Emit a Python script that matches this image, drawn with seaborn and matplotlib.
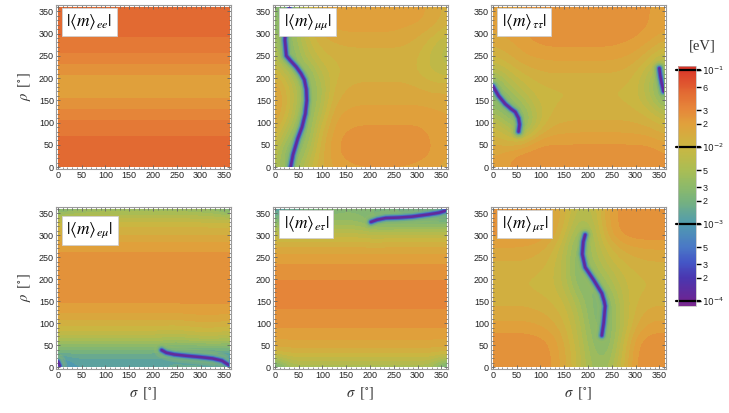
import numpy as np
import matplotlib
matplotlib.use("Agg")
import matplotlib.pyplot as plt
import seaborn as sns
from matplotlib.colors import LinearSegmentedColormap, ListedColormap, BoundaryNorm, Normalize
from matplotlib.cm import ScalarMappable
from matplotlib.patches import Rectangle
from matplotlib.ticker import MultipleLocator

sns.set_theme(style="ticks")
plt.rcParams['font.family'] = ['Liberation Sans', 'DejaVu Sans']
plt.rcParams['mathtext.fontset'] = 'stix'

# grid nodes (degrees), values are log10(|<m>| / eV)
sigma_nodes = [0, 30, 60, 90, 120, 150, 180, 210, 240, 270, 300, 330, 360]
rho_nodes = [0, 30, 60, 90, 120, 150, 180, 210, 240, 270, 300, 330, 360]

# |<m>_ee| only changes with rho
ee_rho_profile = [-1.30, -1.30, -1.32, -1.40, -1.50, -1.65, -1.72, -1.65, -1.50, -1.40, -1.32, -1.30, -1.30]

# rows: rho = 0 ... 360, columns: sigma = 0 ... 360
mumu_grid = [
    [-2.2, -2.6, -2.2, -1.9, -1.75, -1.68, -1.66, -1.66, -1.66, -1.66, -1.68, -1.72, -1.8],
    [-2.1, -2.7, -2.4, -1.95, -1.7, -1.6, -1.6, -1.6, -1.6, -1.6, -1.6, -1.65, -1.75],
    [-1.95, -2.5, -2.6, -2.0, -1.7, -1.6, -1.6, -1.6, -1.6, -1.6, -1.6, -1.65, -1.75],
    [-1.8, -2.2, -2.7, -2.1, -1.75, -1.66, -1.64, -1.64, -1.64, -1.64, -1.64, -1.68, -1.75],
    [-1.72, -2.0, -2.6, -2.3, -1.8, -1.72, -1.7, -1.7, -1.7, -1.7, -1.7, -1.72, -1.75],
    [-1.7, -1.95, -2.5, -2.4, -1.9, -1.8, -1.78, -1.78, -1.78, -1.78, -1.78, -1.8, -1.8],
    [-1.75, -2.0, -2.5, -2.4, -1.95, -1.85, -1.82, -1.82, -1.82, -1.82, -1.85, -1.9, -1.9],
    [-1.9, -2.2, -2.7, -2.2, -2.0, -1.92, -1.9, -1.9, -1.9, -1.9, -1.95, -2.05, -2.1],
    [-2.1, -2.7, -2.3, -2.05, -1.95, -1.92, -1.9, -1.9, -1.9, -1.9, -1.95, -2.1, -2.2],
    [-2.3, -2.6, -2.2, -1.95, -1.88, -1.85, -1.85, -1.85, -1.85, -1.85, -1.9, -2.05, -2.2],
    [-2.4, -2.6, -2.1, -1.85, -1.78, -1.75, -1.75, -1.75, -1.75, -1.78, -1.82, -1.9, -2.05],
    [-2.5, -2.7, -2.1, -1.8, -1.7, -1.68, -1.68, -1.68, -1.68, -1.7, -1.72, -1.78, -1.9],
    [-2.5, -2.7, -2.2, -1.85, -1.72, -1.68, -1.68, -1.68, -1.68, -1.7, -1.72, -1.78, -1.9],
]

tautau_grid = [
    [-1.72, -1.66, -1.58, -1.58, -1.58, -1.58, -1.58, -1.58, -1.58, -1.58, -1.58, -1.58, -1.62],
    [-1.76, -1.7, -1.6, -1.58, -1.58, -1.58, -1.58, -1.58, -1.58, -1.58, -1.58, -1.58, -1.64],
    [-1.9, -1.95, -2.0, -1.72, -1.68, -1.68, -1.68, -1.68, -1.68, -1.68, -1.68, -1.7, -1.78],
    [-2.0, -2.2, -2.6, -2.1, -1.85, -1.82, -1.8, -1.8, -1.8, -1.8, -1.82, -1.85, -1.95],
    [-2.3, -2.6, -2.6, -2.15, -1.95, -1.9, -1.9, -1.9, -1.9, -1.9, -1.92, -2.0, -2.2],
    [-2.6, -2.6, -2.3, -2.05, -1.97, -1.95, -1.95, -1.95, -1.95, -1.95, -2.0, -2.2, -2.6],
    [-2.7, -2.3, -2.1, -1.98, -1.95, -1.95, -1.95, -1.95, -1.95, -1.95, -2.0, -2.3, -2.7],
    [-2.3, -2.1, -1.95, -1.88, -1.85, -1.85, -1.85, -1.85, -1.85, -1.87, -1.95, -2.2, -2.6],
    [-2.0, -1.9, -1.8, -1.76, -1.74, -1.74, -1.74, -1.74, -1.74, -1.76, -1.82, -2.0, -2.2],
    [-1.85, -1.8, -1.72, -1.66, -1.64, -1.64, -1.64, -1.64, -1.64, -1.66, -1.7, -1.8, -1.95],
    [-1.75, -1.72, -1.66, -1.6, -1.58, -1.58, -1.58, -1.58, -1.58, -1.6, -1.62, -1.68, -1.75],
    [-1.72, -1.7, -1.65, -1.6, -1.58, -1.58, -1.58, -1.58, -1.58, -1.58, -1.6, -1.65, -1.72],
    [-1.72, -1.7, -1.66, -1.6, -1.58, -1.58, -1.58, -1.58, -1.58, -1.58, -1.6, -1.65, -1.72],
]

emu_grid = [
    [-3.3, -3.0, -2.95, -2.95, -2.95, -2.95, -2.95, -2.9, -2.8, -2.8, -2.8, -2.9, -3.3],
    [-2.8, -2.8, -2.8, -2.8, -2.8, -2.8, -2.8, -2.85, -2.95, -3.0, -3.0, -3.0, -2.9],
    [-2.3, -2.3, -2.3, -2.3, -2.3, -2.3, -2.3, -2.3, -2.35, -2.3, -2.25, -2.25, -2.3],
    [-1.95, -1.95, -1.95, -1.95, -1.95, -1.95, -1.95, -1.95, -1.97, -1.95, -1.92, -1.92, -1.95],
    [-1.75, -1.75, -1.75, -1.75, -1.75, -1.75, -1.75, -1.75, -1.75, -1.74, -1.72, -1.72, -1.75],
    [-1.62] * 13,
    [-1.55] * 13,
    [-1.55] * 13,
    [-1.56] * 13,
    [-1.68] * 13,
    [-1.85] * 13,
    [-2.02] * 13,
    [-2.75, -2.6, -2.55, -2.5, -2.5, -2.5, -2.5, -2.5, -2.5, -2.5, -2.55, -2.6, -2.8],
]

etau_grid = [
    [-2.9, -2.4, -2.35, -2.35, -2.35, -2.35, -2.35, -2.35, -2.35, -2.35, -2.35, -2.4, -2.9],
    [-1.95, -1.92, -1.92, -1.92, -1.92, -1.92, -1.92, -1.92, -1.92, -1.92, -1.92, -1.92, -1.95],
    [-1.75] * 13,
    [-1.64] * 13,
    [-1.56] * 13,
    [-1.53] * 13,
    [-1.53] * 13,
    [-1.56] * 13,
    [-1.67] * 13,
    [-1.82] * 13,
    [-2.1, -2.1, -2.1, -2.1, -2.1, -2.1, -2.1, -2.15, -2.1, -2.1, -2.1, -2.1, -2.1],
    [-2.6, -2.55, -2.5, -2.5, -2.45, -2.45, -2.5, -2.7, -2.75, -2.7, -2.7, -2.7, -2.7],
    [-3.0, -2.9, -2.8, -2.7, -2.65, -2.6, -2.6, -2.65, -2.7, -2.8, -2.9, -3.0, -3.1],
]

mutau_grid = [
    [-1.56, -1.56, -1.56, -1.57, -1.62, -1.8, -2.1, -2.4, -2.4, -2.0, -1.62, -1.56, -1.56],
    [-1.56, -1.56, -1.56, -1.57, -1.62, -1.82, -2.1, -2.45, -2.5, -2.05, -1.62, -1.56, -1.56],
    [-1.58, -1.58, -1.58, -1.6, -1.66, -1.85, -2.15, -2.5, -2.6, -2.1, -1.68, -1.58, -1.58],
    [-1.7, -1.7, -1.7, -1.72, -1.78, -1.92, -2.2, -2.55, -2.6, -2.2, -1.82, -1.7, -1.7],
    [-1.8, -1.8, -1.8, -1.82, -1.87, -1.98, -2.25, -2.6, -2.6, -2.2, -1.9, -1.8, -1.8],
    [-1.88, -1.88, -1.88, -1.9, -1.95, -2.05, -2.35, -2.6, -2.6, -2.15, -1.95, -1.88, -1.88],
    [-1.95, -1.95, -1.95, -1.97, -2.0, -2.15, -2.5, -2.6, -2.4, -2.1, -1.98, -1.95, -1.95],
    [-1.93, -1.93, -1.93, -1.95, -2.0, -2.2, -2.6, -2.5, -2.25, -2.05, -1.95, -1.93, -1.93],
    [-1.85, -1.85, -1.85, -1.88, -1.95, -2.2, -2.6, -2.35, -2.1, -1.95, -1.88, -1.85, -1.85],
    [-1.76, -1.76, -1.76, -1.8, -1.88, -2.15, -2.6, -2.3, -2.0, -1.82, -1.76, -1.74, -1.74],
    [-1.62, -1.62, -1.62, -1.64, -1.75, -2.0, -2.5, -2.3, -1.8, -1.62, -1.58, -1.58, -1.58],
    [-1.58, -1.58, -1.6, -1.62, -1.7, -1.92, -2.3, -2.2, -1.75, -1.6, -1.56, -1.56, -1.56],
    [-1.58, -1.58, -1.6, -1.62, -1.7, -1.9, -2.2, -2.15, -1.75, -1.6, -1.56, -1.56, -1.56],
]

# lines where the element vanishes (sigma, rho in degrees)
mumu_zero_sigma = [33, 38, 48, 57, 64, 67, 66, 62, 55, 45, 32, 24, 21, 22, 25, 31]
mumu_zero_rho = [0, 28, 64, 90, 120, 150, 175, 196, 210, 225, 240, 250, 285, 300, 327, 360]
tautau_zero_sigma = [0, 12, 26, 38, 47, 54, 56, 54]
tautau_zero_rho = [182, 160, 142, 131, 124, 110, 96, 80]
tautau_zero2_sigma = [350, 352, 355, 359]
tautau_zero2_rho = [222, 205, 188, 170]
emu_zero_sigma = [218, 228, 245, 270, 300, 325, 345, 355, 360]
emu_zero_rho = [39, 33, 29, 26, 23, 20, 15, 8, 5]
emu_zero2_sigma = [0, 4]
emu_zero2_rho = [13, 3]
etau_zero_sigma = [202, 215, 233, 260, 288, 322, 345, 360]
etau_zero_rho = [330, 335, 339, 340, 342, 347, 351, 356]
mutau_zero_sigma = [229, 233, 236, 234, 229, 212, 194, 188, 190, 194]
mutau_zero_rho = [72, 101, 139, 150, 168, 198, 227, 257, 285, 301]

panel_labels = [r'$|\langle m\rangle_{ee}|$', r'$|\langle m\rangle_{\mu\mu}|$', r'$|\langle m\rangle_{\tau\tau}|$',
                r'$|\langle m\rangle_{e\mu}|$', r'$|\langle m\rangle_{e\tau}|$', r'$|\langle m\rangle_{\mu\tau}|$']

# colour bar: log10 positions and tick labels
cbar_ticks = [-1.0, np.log10(0.06), np.log10(0.03), np.log10(0.02), -2.0, np.log10(0.005), np.log10(0.003),
              np.log10(0.002), -3.0, np.log10(0.0005), np.log10(0.0003), np.log10(0.0002), -4.0]
cbar_ticklabels = [r'$10^{-1}$', '6', '3', '2', r'$10^{-2}$', '5', '3', '2', r'$10^{-3}$', '5', '3', '2', r'$10^{-4}$']
cbar_decades = [-1.0, -2.0, -3.0, -4.0]

# rainbow-like gradient
grad_pos = [-4.065, -4.0, -3.7, -3.5, -3.3, -3.0, -2.7, -2.5, -2.3, -2.0, -1.7, -1.5, -1.3, -1.2, -1.0, -0.948]
grad_cols = ['#7b2a8f', '#6c2593', '#4a37b0', '#4456c6', '#4a78c6', '#509bb0', '#77b27e', '#8fba68',
             '#aabd54', '#cab742', '#e0a13c', '#e6863a', '#e36c33', '#e05a30', '#db3a2a', '#d83328']
vmin, vmax = grad_pos[0], grad_pos[-1]
cont_norm = Normalize(vmin, vmax)
rainbow = LinearSegmentedColormap.from_list(
    'rainbow_m', [((p - vmin) / (vmax - vmin), c) for p, c in zip(grad_pos, grad_cols)])

# contour bands, 0.1 decade wide
levels = np.round(np.arange(-4.15, -0.84, 0.1), 2)
centers = levels[:-1] + 0.05
band_cmap = ListedColormap(rainbow(cont_norm(centers)))
band_norm = BoundaryNorm(levels, band_cmap.N)

grids = [np.tile(np.array(ee_rho_profile)[:, None], (1, len(sigma_nodes))),
         np.array(mumu_grid), np.array(tautau_grid),
         np.array(emu_grid), np.array(etau_grid), np.array(mutau_grid)]
zero_lines = [[],
              [(mumu_zero_sigma, mumu_zero_rho)],
              [(tautau_zero_sigma, tautau_zero_rho), (tautau_zero2_sigma, tautau_zero2_rho)],
              [(emu_zero_sigma, emu_zero_rho), (emu_zero2_sigma, emu_zero2_rho)],
              [(etau_zero_sigma, etau_zero_rho)],
              [(mutau_zero_sigma, mutau_zero_rho)]]

fig = plt.figure(figsize=(7.29, 4.13), dpi=100)

col_left = [56 / 729, 273 / 729, 491 / 729]
row_bottom = [1 - 169 / 413, 1 - 369 / 413]
row_height = [164 / 413, 162 / 413]
ax_width = 175 / 729
label_top = [0.955, 0.955, 0.955, 0.915, 0.955, 0.955]

step = sigma_nodes[1] - sigma_nodes[0]
extent = [sigma_nodes[0] - step / 2, sigma_nodes[-1] + step / 2, rho_nodes[0] - step / 2, rho_nodes[-1] + step / 2]
# soft glow around the zero lines: (line width, colour value, alpha)
halo = [(11.0, -2.45, 0.3), (8.0, -2.65, 0.45), (5.5, -2.9, 0.7), (3.6, -3.2, 1.0),
        (2.8, -3.45, 1.0), (1.8, -3.9, 1.0)]

for k in range(6):
    r, c = divmod(k, 3)
    ax = fig.add_axes([col_left[c], row_bottom[r], ax_width, row_height[r]])
    im = ax.imshow(grids[k], origin='lower', extent=extent, cmap=band_cmap, norm=band_norm,
                   interpolation='bicubic', interpolation_stage='data', aspect='auto')
    clip = Rectangle((0, 0), 360, 360, transform=ax.transData)
    im.set_clip_path(clip)
    for xs, ys in zero_lines[k]:
        for lw, val, a in halo:
            ln, = ax.plot(xs, ys, color=rainbow(cont_norm(val)), lw=lw, alpha=a,
                          solid_capstyle='round', solid_joinstyle='round')
            ln.set_clip_path(clip)
    ax.set_xlim(-4, 364)
    ax.set_ylim(-4, 364)
    ax.xaxis.set_major_locator(MultipleLocator(50))
    ax.yaxis.set_major_locator(MultipleLocator(50))
    ax.xaxis.set_minor_locator(MultipleLocator(10))
    ax.yaxis.set_minor_locator(MultipleLocator(10))
    ax.tick_params(which='both', direction='in', top=True, right=True, color='#666666',
                   labelsize=6.5, pad=1.5, labelcolor='#222222')
    ax.tick_params(which='major', length=3.2, width=0.6)
    ax.tick_params(which='minor', length=1.8, width=0.5)
    for sp in ax.spines.values():
        sp.set_color('#9a9a9a')
        sp.set_linewidth(0.8)
    ax.text(0.06, label_top[k], panel_labels[k], transform=ax.transAxes, ha='left', va='top',
            fontsize=12.5, color='black',
            bbox=dict(boxstyle='square,pad=0.25', fc='white', ec='#d0d0d0', lw=0.6))
    if c == 0:
        ax.set_ylabel(r'$\rho\;\;[^{\circ}]$', fontsize=10.5, labelpad=4, color='#333333')
    if r == 1:
        ax.set_xlabel(r'$\sigma\;\;[^{\circ}]$', fontsize=10.5, labelpad=4, color='#333333')

cax = fig.add_axes([678 / 729, 1 - 306 / 413, 18 / 729, 240 / 413])
cb = fig.colorbar(ScalarMappable(norm=cont_norm, cmap=rainbow), cax=cax)
cb.outline.set_edgecolor('#bbbbbb')
cb.outline.set_linewidth(0.5)
cax.set_yticks(cbar_ticks)
cax.set_yticklabels(cbar_ticklabels)
cax.minorticks_off()
cax.tick_params(axis='y', length=3.5, width=1.0, color='black', pad=1, labelsize=6.5, labelcolor='#222222')
for t in cax.get_yticklabels():
    t.set_math_fontfamily('dejavusans')
for d in cbar_decades:
    cax.axhline(d, xmin=-0.12, xmax=1.22, color='black', lw=1.6, clip_on=False)
fig.text(702 / 729, 1 - 46 / 413, '[eV]', ha='center', va='center', fontsize=10.5,
         family=['Liberation Serif', 'DejaVu Serif'], color='#333333')

fig.savefig('out.png', dpi=100)
